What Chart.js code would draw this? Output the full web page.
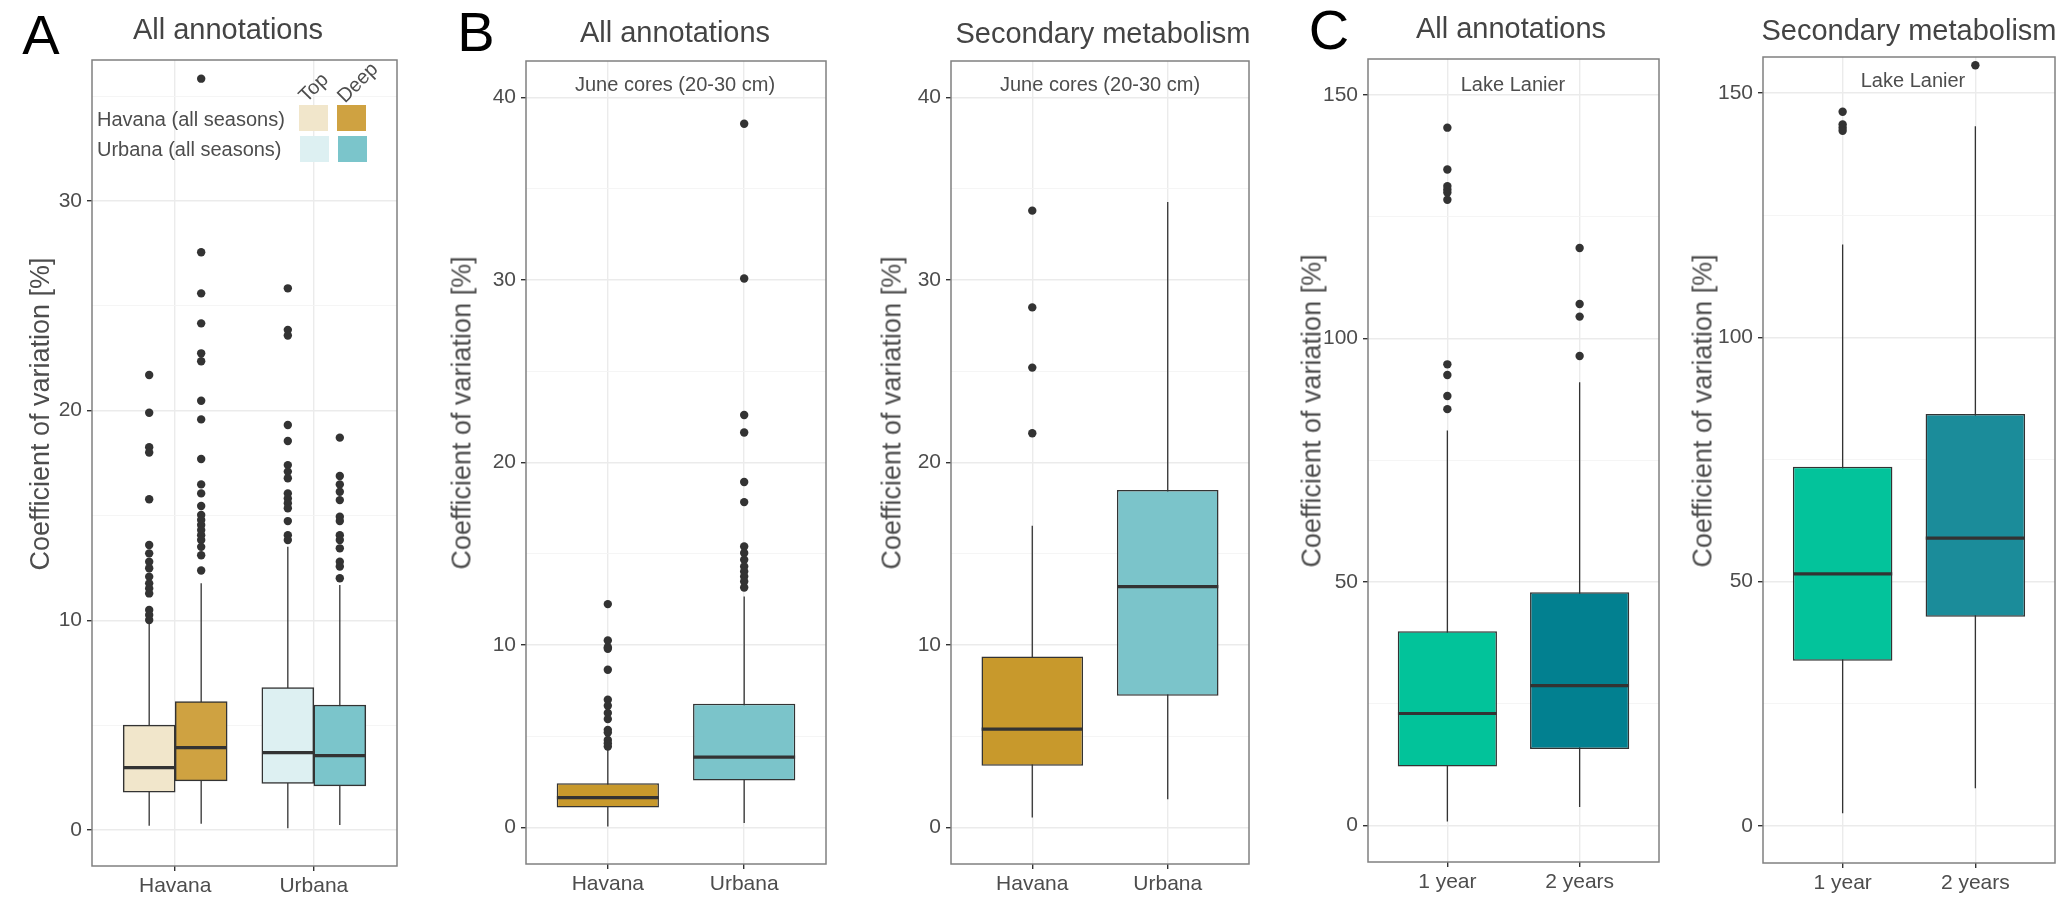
<!DOCTYPE html>
<html><head><meta charset="utf-8">
<script src="https://cdn.jsdelivr.net/npm/chart.js@4.4.1/dist/chart.umd.min.js"></script>
<style>
html,body{margin:0;padding:0;background:#fff;width:2065px;height:897px;overflow:hidden;font-family:"Liberation Sans",Arial,Helvetica,sans-serif;}
canvas{position:absolute;top:0;}
.t{position:absolute;white-space:nowrap;transform:translate(-50%,-50%);line-height:1;color:#4D4D4D;z-index:5;}
.yl{font-size:27px;transform:translate(-50%,-50%) rotate(-90deg);}
.ttl{font-size:29px;color:#444;}
.let{font-size:56px;color:#000;}
.strip{font-size:20px;color:#4D4D4D;}
.lg{position:absolute;white-space:nowrap;font-size:20px;color:#4D4D4D;line-height:1;transform:translateY(-50%);z-index:5;}
.sw{position:absolute;width:29px;height:26px;z-index:5;}
.rot{font-size:20px;transform:translate(-50%,-50%) rotate(-45deg);}
</style></head><body>

<canvas id="cA" width="410" height="897" style="left:0px"></canvas>
<canvas id="cB1" width="370" height="897" style="left:466px"></canvas>
<canvas id="cB2" width="368" height="897" style="left:891px"></canvas>
<canvas id="cC1" width="361" height="897" style="left:1308px"></canvas>
<canvas id="cC2" width="360" height="897" style="left:1703px"></canvas>

<div class="t let" style="left:41px;top:35px">A</div>
<div class="t let" style="left:476px;top:32px">B</div>
<div class="t let" style="left:1329px;top:30px">C</div>

<div class="t ttl" style="left:228px;top:29px">All annotations</div>
<div class="t ttl" style="left:675px;top:32px">All annotations</div>
<div class="t ttl" style="left:1103px;top:33px">Secondary metabolism</div>
<div class="t ttl" style="left:1511px;top:28px">All annotations</div>
<div class="t ttl" style="left:1909px;top:30px">Secondary metabolism</div>

<div class="t yl" style="left:40px;top:414px">Coefficient of variation [%]</div>
<div class="t yl" style="left:462px;top:413px">Coefficient of variation [%]</div>
<div class="t yl" style="left:892px;top:413px">Coefficient of variation [%]</div>
<div class="t yl" style="left:1312px;top:411px">Coefficient of variation [%]</div>
<div class="t yl" style="left:1703px;top:411px">Coefficient of variation [%]</div>

<div class="t strip" style="left:675px;top:84px">June cores (20-30 cm)</div>
<div class="t strip" style="left:1100px;top:84px">June cores (20-30 cm)</div>
<div class="t strip" style="left:1513px;top:84px">Lake Lanier</div>
<div class="t strip" style="left:1913px;top:80px">Lake Lanier</div>

<div class="lg" style="left:97px;top:119px">Havana (all seasons)</div>
<div class="lg" style="left:97px;top:149px">Urbana (all seasons)</div>
<div class="t rot" style="left:313px;top:87px">Top</div>
<div class="t rot" style="left:357px;top:82px">Deep</div>
<div class="sw" style="left:299px;top:105px;background:#F1E6CB"></div>
<div class="sw" style="left:337px;top:105px;background:#CFA241"></div>
<div class="sw" style="left:300px;top:136px;background:#DDF0F2"></div>
<div class="sw" style="left:338px;top:136px;background:#7BC5CB"></div>

<script>
// ---------------- data ----------------
const catsSites = ['Havana', 'Urbana'];
const catsYears = ['1 year', '2 years'];
const depthGroups = ['Top', 'Deep'];

// box statistics: [lower whisker, Q1, median, Q3, upper whisker]
// Panel A – all annotations, all seasons
const aHavanaTop  = [0.2, 1.8, 2.97, 5.0, 9.9];
const aHavanaDeep = [0.29, 2.34, 3.93, 6.12, 11.76];
const aUrbanaTop  = [0.08, 2.22, 3.69, 6.79, 13.5];
const aUrbanaDeep = [0.24, 2.1, 3.54, 5.96, 11.68];
const aHavanaTopOut  = [21.7, 19.9, 18.25, 18.0, 15.77, 13.59, 13.19, 12.79, 12.48, 12.08, 11.76, 11.52, 11.28, 10.49, 10.25, 10.01];
const aHavanaDeepOut = [35.83, 27.55, 25.59, 24.16, 22.73, 22.35, 20.47, 19.58, 17.69, 16.48, 16.05, 15.45, 15.02, 14.78, 14.54, 14.3, 14.06, 13.83, 13.5, 13.1, 12.37];
const aUrbanaTopOut  = [25.83, 23.85, 23.58, 19.31, 18.55, 17.4, 17.09, 16.77, 16.05, 15.81, 15.58, 15.34, 14.73, 14.06, 13.83];
const aUrbanaDeepOut = [18.71, 16.88, 16.48, 16.13, 15.73, 14.94, 14.73, 14.06, 13.83, 13.43, 12.79, 12.56, 12.0];

// Panel B – June cores (20-30 cm)
const b1Havana = [0.05, 1.1, 1.64, 2.43, 4.4];
const b1Urbana = [0.24, 2.58, 3.86, 6.78, 12.66];
const b1HavanaOut = [12.24, 10.25, 9.88, 9.79, 8.64, 7.0, 6.67, 6.27, 5.94, 5.35, 5.2, 4.8, 4.62, 4.44];
const b1UrbanaOut = [38.56, 30.08, 22.6, 21.64, 18.93, 17.83, 15.4, 15.04, 14.67, 14.3, 14.03, 13.75, 13.48, 13.15];
const b2Havana = [0.55, 3.38, 5.39, 9.37, 16.53];
const b2Urbana = [1.55, 7.22, 13.2, 18.5, 34.27];
const b2HavanaOut = [33.8, 28.5, 25.2, 21.6];
const b2UrbanaOut = [];

// Panel C – Lake Lanier
const c1Year1 = [0.8, 12.1, 23.0, 39.9, 81.1];
const c1Year2 = [3.8, 15.7, 28.7, 47.9, 91.0];
const c1Year1Out = [143.3, 134.7, 131.3, 130.6, 130.0, 128.5, 94.7, 92.5, 88.2, 85.5];
const c1Year2Out = [118.6, 107.1, 104.5, 96.4];
const c2Year1 = [2.6, 33.8, 51.6, 73.5, 119.0];
const c2Year2 = [7.7, 42.8, 58.9, 84.3, 143.2];
const c2Year1Out = [146.2, 143.6, 142.9, 142.3];
const c2Year2Out = [155.7];

// tick labels
const yTicksA = [0, 10, 20, 30];
const yTicksB = [0, 10, 20, 30, 40];
const yTicksC = [0, 50, 100, 150];

// ---------------- drawing ----------------
const FONT = '"Liberation Sans", Arial, Helvetica, sans-serif';
const INK = '#333333';
const TXT = '#4D4D4D';
Chart.defaults.font.family = FONT;

const framePlugin = {
  id: 'frame',
  afterDraw(chart) {
    const a = chart.chartArea, c = chart.ctx;
    c.save();
    c.strokeStyle = '#808080';
    c.lineWidth = 1.5;
    c.strokeRect(a.left, a.top, a.right - a.left, a.bottom - a.top);
    c.restore();
  }
};

function makeBoxChart(cfg) {
  const { id, cats, boxes, yMin, yMax, majors, minorStep, pad, yW, xH } = cfg;
  const ng = cfg.nGroups;
  const dodge = 0.75;
  const bw = dodge / ng;
  const pos = b => b.ci + (b.gi - (ng - 1) / 2) * bw;

  const boxData = boxes.map(b => ({ x: pos(b), y: [b.s[1], b.s[3]] }));
  const whiskers = [];
  boxes.forEach(b => {
    whiskers.push({ x: pos(b), y: b.s[0] });
    whiskers.push({ x: pos(b), y: b.s[4] });
    whiskers.push({ x: pos(b), y: null });
  });
  const medians = boxes.map(b => ({ x: pos(b), y: b.s[2] }));
  const outs = [];
  boxes.forEach(b => b.out.forEach(v => outs.push({ x: pos(b), y: v })));

  const ticksAll = [];
  for (let v = majors[0] - minorStep; v <= yMax; v += minorStep) {
    if (v >= yMin) ticksAll.push(v);
  }
  const isMajor = v => majors.some(m => Math.abs(m - v) < 1e-9);

  return new Chart(document.getElementById(id), {
    type: 'bar',
    data: {
      datasets: [
        {
          type: 'scatter', label: 'outliers', data: outs, order: 0,
          pointRadius: 4.2, pointBackgroundColor: INK, pointBorderWidth: 0, pointBorderColor: INK
        },
        {
          type: 'scatter', label: 'median', data: medians, order: 1,
          pointStyle: 'line', pointBorderColor: INK, pointBorderWidth: 3.2,
          pointRadius: ctx => {
            const x = ctx.chart.scales.x;
            return Math.abs(x.getPixelForValue(bw) - x.getPixelForValue(0)) / 2 - 0.2;
          }
        },
        {
          type: 'bar', label: 'box', data: boxData, order: 2, grouped: false,
          backgroundColor: boxes.map(b => b.fill), borderColor: INK, borderWidth: 1.5,
          borderSkipped: false, categoryPercentage: ng === 1 ? 0.75 : 1, barPercentage: 1
        },
        {
          type: 'line', label: 'whisker', data: whiskers, order: 3,
          borderColor: INK, borderWidth: 1.3, pointRadius: 0, spanGaps: false, fill: false, tension: 0
        }
      ]
    },
    options: {
      responsive: false, animation: false, events: [],
      layout: { padding: pad },
      plugins: { legend: { display: false }, tooltip: { enabled: false }, title: { display: false } },
      scales: {
        x: {
          type: 'linear', min: -0.6, max: cats.length - 0.4, offset: false,
          afterBuildTicks: s => { s.ticks = cats.map((_, i) => ({ value: i })); },
          afterFit: s => { s.height = xH; },
          ticks: {
            callback: v => cats[Math.round(v)], font: { size: 21 }, color: TXT,
            padding: 3, maxRotation: 0, minRotation: 0, autoSkip: false
          },
          grid: { offset: false, color: '#EBEBEB', lineWidth: 1.4, tickColor: INK, tickLength: 5, drawTicks: true },
          border: { display: false }
        },
        y: {
          type: 'linear', min: yMin, max: yMax, offset: false,
          afterBuildTicks: s => { s.ticks = ticksAll.map(v => ({ value: v })); },
          afterFit: s => { s.width = yW; },
          ticks: {
            callback: v => isMajor(v) ? String(v) : '', font: { size: 21 }, color: TXT, padding: 5,
            autoSkip: false
          },
          grid: {
            color: c => isMajor(c.tick.value) ? '#EBEBEB' : '#F4F4F4',
            lineWidth: c => isMajor(c.tick.value) ? 1.4 : 0.9,
            tickColor: c => isMajor(c.tick.value) ? INK : 'rgba(0,0,0,0)',
            tickLength: 5, drawTicks: true
          },
          border: { display: false }
        }
      }
    },
    plugins: [framePlugin]
  });
}

// Panel A
makeBoxChart({
  id: 'cA', cats: catsSites, nGroups: depthGroups.length,
  boxes: [
    { ci: 0, gi: 0, s: aHavanaTop, out: aHavanaTopOut, fill: '#F1E6CB' },
    { ci: 0, gi: 1, s: aHavanaDeep, out: aHavanaDeepOut, fill: '#CFA241' },
    { ci: 1, gi: 0, s: aUrbanaTop, out: aUrbanaTopOut, fill: '#DDF0F2' },
    { ci: 1, gi: 1, s: aUrbanaDeep, out: aUrbanaDeepOut, fill: '#7BC5CB' }
  ],
  yMin: -1.72, yMax: 36.72, majors: yTicksA, minorStep: 5,
  pad: { left: 32, right: 13, top: 60, bottom: 0 }, yW: 60, xH: 31
});

// Panel B
makeBoxChart({
  id: 'cB1', cats: catsSites, nGroups: 1,
  boxes: [
    { ci: 0, gi: 0, s: b1Havana, out: b1HavanaOut, fill: '#C8992C' },
    { ci: 1, gi: 0, s: b1Urbana, out: b1UrbanaOut, fill: '#7BC4CA' }
  ],
  yMin: -2.0, yMax: 42.0, majors: yTicksB, minorStep: 5,
  pad: { left: 0, right: 10, top: 61, bottom: 0 }, yW: 60, xH: 33
});
makeBoxChart({
  id: 'cB2', cats: catsSites, nGroups: 1,
  boxes: [
    { ci: 0, gi: 0, s: b2Havana, out: b2HavanaOut, fill: '#C8992C' },
    { ci: 1, gi: 0, s: b2Urbana, out: b2UrbanaOut, fill: '#7BC4CA' }
  ],
  yMin: -2.0, yMax: 42.0, majors: yTicksB, minorStep: 5,
  pad: { left: 0, right: 10, top: 61, bottom: 0 }, yW: 60, xH: 33
});

// Panel C
makeBoxChart({
  id: 'cC1', cats: catsYears, nGroups: 1,
  boxes: [
    { ci: 0, gi: 0, s: c1Year1, out: c1Year1Out, fill: '#02C39A' },
    { ci: 1, gi: 0, s: c1Year2, out: c1Year2Out, fill: '#028090' }
  ],
  yMin: -7.5, yMax: 157.4, majors: yTicksC, minorStep: 25,
  pad: { left: 0, right: 10, top: 59, bottom: 0 }, yW: 60, xH: 35
});
makeBoxChart({
  id: 'cC2', cats: catsYears, nGroups: 1,
  boxes: [
    { ci: 0, gi: 0, s: c2Year1, out: c2Year1Out, fill: '#03C39B' },
    { ci: 1, gi: 0, s: c2Year2, out: c2Year2Out, fill: '#1B8C9A' }
  ],
  yMin: -7.6, yMax: 157.4, majors: yTicksC, minorStep: 25,
  pad: { left: 0, right: 8, top: 57, bottom: 0 }, yW: 60, xH: 34
});
</script>
</body></html>
